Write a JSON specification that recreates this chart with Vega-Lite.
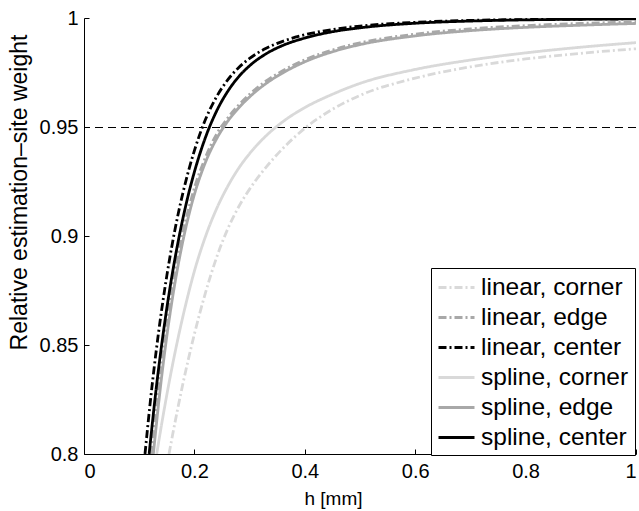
{
  "$schema": "https://vega.github.io/schema/vega-lite/v6.json",
  "width": 552,
  "height": 436,
  "autosize": {"type": "none"},
  "padding": {"left": 84, "top": 18, "right": 3, "bottom": 57},
  "background": "white",
  "config": {
    "view": {"stroke": null},
    "font": "Liberation Sans",
    "axis": {
      "domainColor": "black",
      "domainWidth": 1,
      "tickColor": "black",
      "tickSize": -5,
      "labelFont": "Liberation Sans",
      "labelFontSize": 20,
      "labelColor": "black",
      "titleFont": "Liberation Sans",
      "titleFontWeight": "normal",
      "titleColor": "black",
      "grid": false
    },
    "legend": {
      "labelFont": "Liberation Sans",
      "labelFontSize": 24.5,
      "labelColor": "black"
    }
  },
  "datasets": {
    "curves": [
      {"series": "linear, corner", "h": 0.154, "w": 0.80},
      {"series": "linear, corner", "h": 0.16, "w": 0.8081},
      {"series": "linear, corner", "h": 0.18, "w": 0.8332},
      {"series": "linear, corner", "h": 0.20, "w": 0.8550},
      {"series": "linear, corner", "h": 0.22, "w": 0.8739},
      {"series": "linear, corner", "h": 0.24, "w": 0.8900},
      {"series": "linear, corner", "h": 0.26, "w": 0.9030},
      {"series": "linear, corner", "h": 0.28, "w": 0.9133},
      {"series": "linear, corner", "h": 0.30, "w": 0.9215},
      {"series": "linear, corner", "h": 0.33, "w": 0.9316},
      {"series": "linear, corner", "h": 0.36, "w": 0.9401},
      {"series": "linear, corner", "h": 0.40, "w": 0.9494},
      {"series": "linear, corner", "h": 0.45, "w": 0.9581},
      {"series": "linear, corner", "h": 0.50, "w": 0.9645},
      {"series": "linear, corner", "h": 0.60, "w": 0.9724},
      {"series": "linear, corner", "h": 0.70, "w": 0.9776},
      {"series": "linear, corner", "h": 0.80, "w": 0.9812},
      {"series": "linear, corner", "h": 0.90, "w": 0.9838},
      {"series": "linear, corner", "h": 1.00, "w": 0.9859},

      {"series": "linear, edge", "h": 0.1225, "w": 0.80},
      {"series": "linear, edge", "h": 0.14, "w": 0.842},
      {"series": "linear, edge", "h": 0.15, "w": 0.861},
      {"series": "linear, edge", "h": 0.16, "w": 0.877},
      {"series": "linear, edge", "h": 0.17, "w": 0.891},
      {"series": "linear, edge", "h": 0.18, "w": 0.903},
      {"series": "linear, edge", "h": 0.19, "w": 0.913},
      {"series": "linear, edge", "h": 0.20, "w": 0.922},
      {"series": "linear, edge", "h": 0.22, "w": 0.936},
      {"series": "linear, edge", "h": 0.24, "w": 0.9466},
      {"series": "linear, edge", "h": 0.26, "w": 0.9540},
      {"series": "linear, edge", "h": 0.28, "w": 0.9600},
      {"series": "linear, edge", "h": 0.30, "w": 0.9650},
      {"series": "linear, edge", "h": 0.33, "w": 0.9711},
      {"series": "linear, edge", "h": 0.36, "w": 0.9758},
      {"series": "linear, edge", "h": 0.40, "w": 0.9808},
      {"series": "linear, edge", "h": 0.45, "w": 0.9853},
      {"series": "linear, edge", "h": 0.50, "w": 0.9886},
      {"series": "linear, edge", "h": 0.60, "w": 0.9926},
      {"series": "linear, edge", "h": 0.70, "w": 0.9950},
      {"series": "linear, edge", "h": 0.80, "w": 0.9965},
      {"series": "linear, edge", "h": 0.90, "w": 0.9975},
      {"series": "linear, edge", "h": 1.00, "w": 0.9982},

      {"series": "linear, center", "h": 0.1105, "w": 0.80},
      {"series": "linear, center", "h": 0.12, "w": 0.8237},
      {"series": "linear, center", "h": 0.13, "w": 0.8457},
      {"series": "linear, center", "h": 0.14, "w": 0.8649},
      {"series": "linear, center", "h": 0.15, "w": 0.8817},
      {"series": "linear, center", "h": 0.16, "w": 0.8965},
      {"series": "linear, center", "h": 0.17, "w": 0.9094},
      {"series": "linear, center", "h": 0.18, "w": 0.9206},
      {"series": "linear, center", "h": 0.19, "w": 0.9305},
      {"series": "linear, center", "h": 0.20, "w": 0.9392},
      {"series": "linear, center", "h": 0.22, "w": 0.9534},
      {"series": "linear, center", "h": 0.24, "w": 0.9638},
      {"series": "linear, center", "h": 0.26, "w": 0.9715},
      {"series": "linear, center", "h": 0.28, "w": 0.9772},
      {"series": "linear, center", "h": 0.30, "w": 0.9815},
      {"series": "linear, center", "h": 0.33, "w": 0.9861},
      {"series": "linear, center", "h": 0.36, "w": 0.9893},
      {"series": "linear, center", "h": 0.40, "w": 0.9923},
      {"series": "linear, center", "h": 0.45, "w": 0.9947},
      {"series": "linear, center", "h": 0.50, "w": 0.9963},
      {"series": "linear, center", "h": 0.60, "w": 0.9980},
      {"series": "linear, center", "h": 0.70, "w": 0.9989},
      {"series": "linear, center", "h": 0.80, "w": 0.9993},
      {"series": "linear, center", "h": 0.90, "w": 0.99954},
      {"series": "linear, center", "h": 1.00, "w": 0.9997},

      {"series": "spline, corner", "h": 0.1317, "w": 0.80},
      {"series": "spline, corner", "h": 0.14, "w": 0.8127},
      {"series": "spline, corner", "h": 0.15, "w": 0.8271},
      {"series": "spline, corner", "h": 0.16, "w": 0.8404},
      {"series": "spline, corner", "h": 0.17, "w": 0.8527},
      {"series": "spline, corner", "h": 0.18, "w": 0.8640},
      {"series": "spline, corner", "h": 0.19, "w": 0.8744},
      {"series": "spline, corner", "h": 0.20, "w": 0.8839},
      {"series": "spline, corner", "h": 0.22, "w": 0.8997},
      {"series": "spline, corner", "h": 0.24, "w": 0.9124},
      {"series": "spline, corner", "h": 0.26, "w": 0.9226},
      {"series": "spline, corner", "h": 0.28, "w": 0.9310},
      {"series": "spline, corner", "h": 0.30, "w": 0.9378},
      {"series": "spline, corner", "h": 0.33, "w": 0.9460},
      {"series": "spline, corner", "h": 0.36, "w": 0.9524},
      {"series": "spline, corner", "h": 0.40, "w": 0.9589},
      {"series": "spline, corner", "h": 0.45, "w": 0.9650},
      {"series": "spline, corner", "h": 0.50, "w": 0.9700},
      {"series": "spline, corner", "h": 0.60, "w": 0.9764},
      {"series": "spline, corner", "h": 0.70, "w": 0.9807},
      {"series": "spline, corner", "h": 0.80, "w": 0.9840},
      {"series": "spline, corner", "h": 0.90, "w": 0.9866},
      {"series": "spline, corner", "h": 1.00, "w": 0.9887},

      {"series": "spline, edge", "h": 0.1256, "w": 0.80},
      {"series": "spline, edge", "h": 0.14, "w": 0.834},
      {"series": "spline, edge", "h": 0.15, "w": 0.854},
      {"series": "spline, edge", "h": 0.16, "w": 0.8711},
      {"series": "spline, edge", "h": 0.17, "w": 0.8859},
      {"series": "spline, edge", "h": 0.18, "w": 0.8987},
      {"series": "spline, edge", "h": 0.19, "w": 0.9097},
      {"series": "spline, edge", "h": 0.20, "w": 0.9191},
      {"series": "spline, edge", "h": 0.22, "w": 0.9338},
      {"series": "spline, edge", "h": 0.24, "w": 0.9445},
      {"series": "spline, edge", "h": 0.26, "w": 0.9525},
      {"series": "spline, edge", "h": 0.28, "w": 0.9587},
      {"series": "spline, edge", "h": 0.30, "w": 0.9638},
      {"series": "spline, edge", "h": 0.33, "w": 0.9700},
      {"series": "spline, edge", "h": 0.36, "w": 0.9748},
      {"series": "spline, edge", "h": 0.40, "w": 0.9799},
      {"series": "spline, edge", "h": 0.45, "w": 0.9845},
      {"series": "spline, edge", "h": 0.50, "w": 0.9878},
      {"series": "spline, edge", "h": 0.60, "w": 0.9918},
      {"series": "spline, edge", "h": 0.70, "w": 0.9942},
      {"series": "spline, edge", "h": 0.80, "w": 0.9957},
      {"series": "spline, edge", "h": 0.90, "w": 0.9967},
      {"series": "spline, edge", "h": 1.00, "w": 0.9975},

      {"series": "spline, center", "h": 0.118, "w": 0.80},
      {"series": "spline, center", "h": 0.13, "w": 0.8283},
      {"series": "spline, center", "h": 0.14, "w": 0.8488},
      {"series": "spline, center", "h": 0.15, "w": 0.8668},
      {"series": "spline, center", "h": 0.16, "w": 0.8827},
      {"series": "spline, center", "h": 0.17, "w": 0.8967},
      {"series": "spline, center", "h": 0.18, "w": 0.9090},
      {"series": "spline, center", "h": 0.19, "w": 0.9199},
      {"series": "spline, center", "h": 0.20, "w": 0.9294},
      {"series": "spline, center", "h": 0.22, "w": 0.9452},
      {"series": "spline, center", "h": 0.24, "w": 0.9572},
      {"series": "spline, center", "h": 0.26, "w": 0.9662},
      {"series": "spline, center", "h": 0.28, "w": 0.9730},
      {"series": "spline, center", "h": 0.30, "w": 0.9781},
      {"series": "spline, center", "h": 0.33, "w": 0.9836},
      {"series": "spline, center", "h": 0.36, "w": 0.9874},
      {"series": "spline, center", "h": 0.40, "w": 0.9908},
      {"series": "spline, center", "h": 0.45, "w": 0.9937},
      {"series": "spline, center", "h": 0.50, "w": 0.9955},
      {"series": "spline, center", "h": 0.60, "w": 0.9976},
      {"series": "spline, center", "h": 0.70, "w": 0.9986},
      {"series": "spline, center", "h": 0.80, "w": 0.99915},
      {"series": "spline, center", "h": 0.90, "w": 0.99943},
      {"series": "spline, center", "h": 1.00, "w": 0.9996}
    ],
    "threshold": [{"w": 0.95}]
  },
  "layer": [
    {
      "data": {"name": "threshold"},
      "mark": {"type": "rule", "color": "black", "strokeWidth": 1, "strokeDash": [8, 5], "yOffset": 0.5},
      "encoding": {"y": {"field": "w", "type": "quantitative"}}
    },
    {
      "data": {"name": "curves"},
      "mark": {"type": "line", "interpolate": "monotone", "strokeWidth": 2.8, "clip": true},
      "encoding": {
        "x": {
          "field": "h", "type": "quantitative",
          "scale": {"domain": [0, 1], "nice": false},
          "axis": {
            "values": [0, 0.2, 0.4, 0.6, 0.8, 1], "format": "~g",
            "title": "h [mm]", "titleFontSize": 19, "titleX": 249,
            "labelPadding": 12, "titlePadding": 8
          }
        },
        "y": {
          "field": "w", "type": "quantitative",
          "scale": {"domain": [0.8, 1], "nice": false, "zero": false},
          "axis": {
            "values": [0.8, 0.85, 0.9, 0.95, 1], "format": "~g",
            "title": "Relative estimation–site weight", "titleFontSize": 23, "titleY": 174,
            "labelPadding": 11, "titlePadding": 8
          }
        },
        "color": {
          "field": "series", "type": "nominal",
          "scale": {
            "domain": ["linear, corner", "linear, edge", "linear, center", "spline, corner", "spline, edge", "spline, center"],
            "range": ["#d9d9d9", "#a8a8a8", "#000000", "#d9d9d9", "#a8a8a8", "#000000"]
          },
          "legend": {
            "title": null,
            "orient": "none",
            "legendX": 347,
            "legendY": 250,
            "symbolType": "M-1,0H2",
            "symbolSize": 576,
            "symbolStrokeWidth": 2.8,
            "symbolFillColor": "transparent",
            "strokeColor": "black",
            "fillColor": "white",
            "padding": 6,
            "rowPadding": 5,
            "labelOffset": 17
          }
        },
        "strokeDash": {
          "field": "series", "type": "nominal",
          "scale": {
            "domain": ["linear, corner", "linear, edge", "linear, center", "spline, corner", "spline, edge", "spline, center"],
            "range": [[8, 3, 2, 3], [8, 3, 2, 3], [8, 3, 2, 3], [1, 0], [1, 0], [1, 0]]
          },
          "legend": {"title": null}
        }
      }
    }
  ]
}
